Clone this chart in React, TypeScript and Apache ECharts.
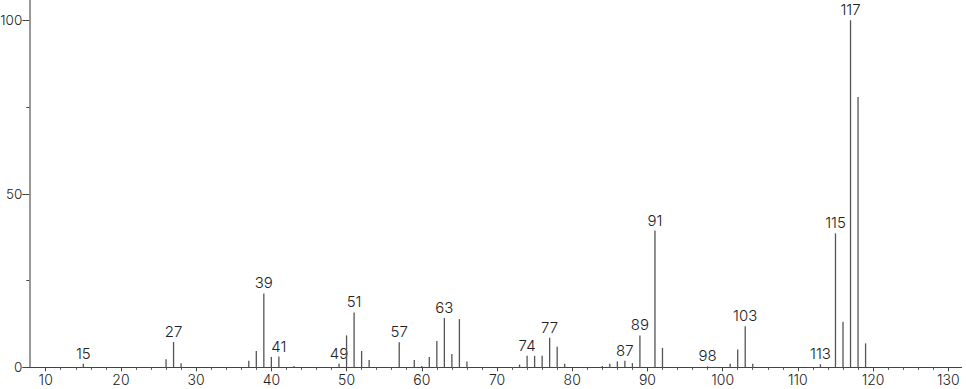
import React, { useEffect, useRef } from "react";
import * as echarts from "echarts";

// m/z values and relative intensities (%)
const mz = [15, 26, 27, 28, 37, 38, 39, 40, 41, 43, 49, 50, 51, 52, 53, 57, 59, 60, 61, 62, 63, 64, 65, 66, 73, 74, 75, 76, 77, 78, 79, 84, 85, 86, 87, 88, 89, 91, 92, 98, 101, 102, 103, 104, 113, 115, 116, 117, 118, 119];
const intensity = [1.0, 2.3, 7.3, 1.2, 1.9, 4.7, 21.3, 3.0, 3.1, 0.4, 1.0, 9.2, 15.8, 4.7, 2.1, 7.2, 2.1, 0.4, 3.0, 7.6, 14.2, 3.8, 13.9, 1.7, 0.8, 3.3, 3.3, 3.3, 8.5, 5.9, 1.0, 0.4, 1.0, 1.7, 1.9, 1.2, 9.2, 39.4, 5.6, 0.3, 1.0, 5.1, 11.8, 1.0, 0.9, 38.6, 13.1, 100, 77.9, 6.9];
const labeledPeaks = [15, 27, 39, 41, 49, 51, 57, 63, 74, 77, 87, 89, 91, 98, 103, 113, 115, 117];

const xMajorTicks = [10, 20, 30, 40, 50, 60, 70, 80, 90, 100, 110, 120, 130];
const xMinorTicks = [12, 14, 16, 18, 22, 24, 26, 28, 32, 34, 36, 38, 42, 44, 46, 48, 52, 54, 56, 58, 62, 64, 66, 68, 72, 74, 76, 78, 82, 84, 86, 88, 92, 94, 96, 98, 102, 104, 106, 108, 112, 114, 116, 118, 122, 124, 126, 128];
const yMajorTicks = [0, 50, 100];
const yMinorTicks = [25, 75];

const X_MIN = 7.82;
const X_MAX = 131.78;
const Y_MAX = 105.85;

const FAMILY = "Inter, 'Noto Sans', sans-serif";

export default function App() {
  const ref = useRef<HTMLDivElement>(null);
  useEffect(() => {
    if (!ref.current) return;
    const chart = echarts.init(ref.current, null, { renderer: "svg" });
    const data = mz.map((m, i) => [m, intensity[i]]);
    const axisText = { fontFamily: FAMILY, fontSize: 14, fontWeight: 300, color: "#222" };
    chart.setOption({
      animation: false,
      backgroundColor: "#fff",
      grid: { left: 29.3, right: 4.3, top: 0, bottom: 21.7, containLabel: false, outerBoundsMode: "none" },
      xAxis: [
        {
          type: "value",
          min: X_MIN,
          max: X_MAX,
          position: "bottom",
          splitLine: { show: false },
          axisLine: { show: true, lineStyle: { color: "#444", width: 1 } },
          axisTick: { show: true, length: 4, customValues: xMajorTicks, lineStyle: { color: "#444" } },
          axisLabel: { show: true, margin: 5, customValues: xMajorTicks, ...axisText },
        },
        {
          type: "value",
          min: X_MIN,
          max: X_MAX,
          position: "bottom",
          splitLine: { show: false },
          axisLine: { show: false },
          axisTick: { show: true, length: 2.5, customValues: xMinorTicks, lineStyle: { color: "#555" } },
          axisLabel: { show: false },
        },
      ],
      yAxis: [
        {
          type: "value",
          min: 0,
          max: Y_MAX,
          position: "left",
          splitLine: { show: false },
          axisLine: { show: true, lineStyle: { color: "#999", width: 2 } },
          axisTick: { show: true, length: 7, customValues: yMajorTicks, lineStyle: { color: "#444" } },
          axisLabel: { show: true, margin: 7, customValues: yMajorTicks, ...axisText, fontSize: 13.5 },
        },
        {
          type: "value",
          min: 0,
          max: Y_MAX,
          position: "left",
          splitLine: { show: false },
          axisLine: { show: false },
          axisTick: { show: true, length: 3, customValues: yMinorTicks, lineStyle: { color: "#444" } },
          axisLabel: { show: false },
        },
      ],
      series: [
        {
          type: "custom",
          xAxisIndex: 0,
          yAxisIndex: 0,
          clip: false,
          data,
          renderItem: (params: any, api: any) => {
            const x = api.value(0);
            const y = api.value(1);
            const top = api.coord([x, y]);
            const base = api.coord([x, 0]);
            const children: any[] = [
              {
                type: "line",
                shape: { x1: top[0], y1: base[1], x2: top[0], y2: top[1] },
                style: { stroke: "#555", lineWidth: 1.3 },
              },
            ];
            if (labeledPeaks.indexOf(x) >= 0) {
              children.push({
                type: "text",
                x: top[0],
                y: top[1] - 3,
                style: {
                  text: String(x),
                  fontFamily: FAMILY,
                  fontSize: 15,
                  fontWeight: 300,
                  fill: "#222",
                  align: "center",
                  verticalAlign: "bottom",
                },
              });
            }
            return { type: "group", children };
          },
        },
      ],
    });
    return () => chart.dispose();
  }, []);
  return (
    <div
      ref={ref}
      style={{ position: "absolute", left: 0, top: 0, width: 966, height: 389, background: "#fff" }}
    />
  );
}
